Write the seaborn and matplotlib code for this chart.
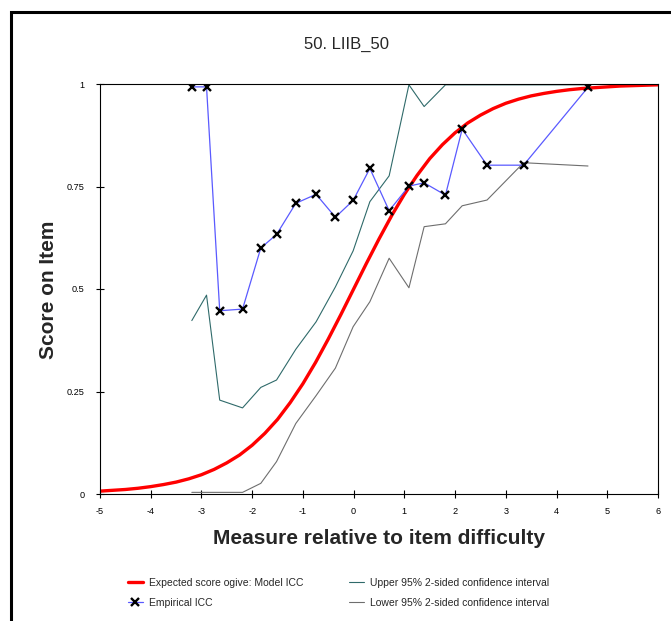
import matplotlib
matplotlib.use("Agg")
import numpy as np
import pandas as pd
import seaborn as sns
import matplotlib.pyplot as plt
from matplotlib.patches import Rectangle

# ---------------- data ----------------
title = "50. LIIB_50"
x_label = "Measure relative to item difficulty"
y_label = "Score on Item"

measure = [-3.19, -2.90, -2.64, -2.19, -1.83, -1.52, -1.14, -0.74, -0.36, -0.01,
           0.32, 0.70, 1.09, 1.39, 1.81, 2.14, 2.63, 3.35, 4.62]
empirical_icc = [0.993, 0.993, 0.447, 0.451, 0.600, 0.633, 0.709, 0.731, 0.675, 0.716,
                 0.794, 0.691, 0.751, 0.759, 0.729, 0.890, 0.802, 0.802, 0.992]
upper_ci = [0.423, 0.485, 0.229, 0.210, 0.260, 0.278, 0.353, 0.420, 0.505, 0.593,
            0.713, 0.776, 0.998, 0.945, 0.998, 0.998, 0.998, 0.998, 0.998]
lower_ci = [0.004, 0.004, 0.004, 0.004, 0.026, 0.079, 0.172, 0.240, 0.307, 0.408,
            0.469, 0.575, 0.503, 0.652, 0.659, 0.703, 0.717, 0.808, 0.800]

model_x = [-5.0, -4.75, -4.5, -4.25, -4.0, -3.75, -3.5, -3.25, -3.0, -2.75, -2.5, -2.25,
           -2.0, -1.75, -1.5, -1.25, -1.0, -0.75, -0.5, -0.25, 0.0, 0.25, 0.5, 0.75,
           1.0, 1.25, 1.5, 1.75, 2.0, 2.25, 2.5, 2.75, 3.0, 3.25, 3.5, 3.75,
           4.0, 4.25, 4.5, 4.75, 5.0, 5.25, 5.5, 5.75, 6.0]
model_icc = [0.007, 0.009, 0.011, 0.014, 0.018, 0.023, 0.029, 0.037, 0.047, 0.060, 0.076, 0.095,
             0.119, 0.148, 0.182, 0.223, 0.269, 0.321, 0.378, 0.438, 0.500, 0.562, 0.622, 0.679,
             0.731, 0.777, 0.818, 0.852, 0.881, 0.905, 0.924, 0.940, 0.953, 0.963, 0.971, 0.977,
             0.982, 0.986, 0.989, 0.991, 0.993, 0.995, 0.996, 0.997, 0.998]

x_ticks = [-5, -4, -3, -2, -1, 0, 1, 2, 3, 4, 5, 6]
y_ticks = [0, 0.25, 0.5, 0.75, 1]
y_tick_labels = ["0", "0.25", "0.5", "0.75", "1"]

legend_labels = ["Expected score ogive: Model ICC", "Empirical ICC",
                 "Upper 95% 2-sided confidence interval",
                 "Lower 95% 2-sided confidence interval"]

# ---------------- style ----------------
sns.set_theme(style="white")
plt.rcParams["font.family"] = ["Liberation Sans", "DejaVu Sans"]

W, H = 671, 621
fig = plt.figure(figsize=(W / 100, H / 100), dpi=100)
fig.patch.set_facecolor("white")
ax = fig.add_axes([100 / W, 1 - 494 / H, 558 / W, 410 / H])
ax.set_facecolor("white")

emp_df = pd.DataFrame({"measure": measure, "empirical": empirical_icc,
                       "upper": upper_ci, "lower": lower_ci})
model_df = pd.DataFrame({"x": model_x, "icc": model_icc})

sns.lineplot(data=emp_df, x="measure", y="upper", ax=ax, color="#2f6a6a",
             linewidth=0.8, sort=False, estimator=None, label=legend_labels[2])
sns.lineplot(data=emp_df, x="measure", y="lower", ax=ax, color="#6e6e6e",
             linewidth=0.8, sort=False, estimator=None, label=legend_labels[3])
sns.lineplot(data=model_df, x="x", y="icc", ax=ax, color="#ff0000",
             linewidth=2.4, sort=False, estimator=None, label=legend_labels[0])
sns.lineplot(data=emp_df, x="measure", y="empirical", ax=ax, color="#5a5aff",
             linewidth=0.9, sort=False, estimator=None, marker="x", markersize=6,
             markeredgecolor="black", markeredgewidth=1.7, label=legend_labels[1])

ax.set_xlim(-5, 6)
ax.set_ylim(0, 1)
ax.set_xticks(x_ticks)
ax.set_xticklabels([str(t) for t in x_ticks])
ax.set_yticks(y_ticks)
ax.set_yticklabels(y_tick_labels)
ax.set_xlabel("")
ax.set_ylabel("")
for s in ax.spines.values():
    s.set_visible(True)
    s.set_color("black")
    s.set_linewidth(0.8)
ax.tick_params(axis="both", direction="inout", length=6, width=0.8, colors="black",
               labelsize=6.6, bottom=True, left=True)
ax.tick_params(axis="y", pad=8)
ax.tick_params(axis="x", pad=6)

handles, labels = ax.get_legend_handles_labels()
lg = ax.get_legend()
if lg is not None:
    lg.remove()
order = [labels.index(l) for l in legend_labels]
handles = [handles[i] for i in order]
labels = [labels[i] for i in order]
fig.legend(handles, labels, ncol=2, loc="center left",
           bbox_to_anchor=(128 / W, 1 - 593 / H), frameon=False, fontsize=7.5,
           handlelength=1.4, handletextpad=0.6, columnspacing=4.4,
           labelspacing=0.95, borderpad=0, borderaxespad=0)

fig.text(346 / W, 1 - 49 / H, title, ha="center", va="baseline", fontsize=12)
fig.text(379 / W, 1 - 544 / H, x_label, ha="center", va="baseline",
         fontsize=15, fontweight="bold")
fig.text(49 / W, 1 - 290 / H, y_label, ha="center", va="center", rotation=90,
         fontsize=15, fontweight="bold")

fig.add_artist(Rectangle((11 / W, -0.2), 2.0, 1 - 12 / H + 0.2, transform=fig.transFigure,
                         fill=False, edgecolor="black", linewidth=2.2))

fig.savefig("out.png", dpi=100)
